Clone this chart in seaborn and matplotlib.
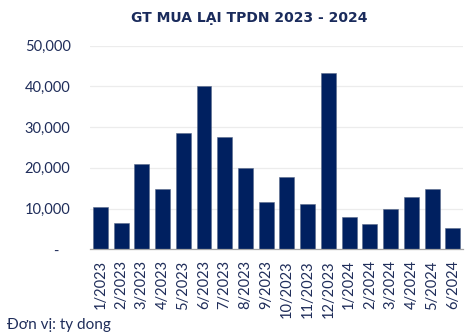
import matplotlib
matplotlib.use("Agg")
import matplotlib.pyplot as plt
import seaborn as sns
import pandas as pd
from matplotlib.ticker import FixedLocator, FuncFormatter

months = ["1/2023", "2/2023", "3/2023", "4/2023", "5/2023", "6/2023", "7/2023", "8/2023",
          "9/2023", "10/2023", "11/2023", "12/2023", "1/2024", "2/2024", "3/2024", "4/2024",
          "5/2024", "6/2024"]
values = [10300, 6400, 21000, 14900, 28500, 40000, 27600, 20000, 11600, 17700, 11000, 43400,
          8000, 6200, 9800, 12900, 14900, 5200]
yticks = [0, 10000, 20000, 30000, 40000, 50000]

df = pd.DataFrame({"month": months, "value": values})

sns.set_style("white")
plt.rcParams["font.family"] = ["Lato", "DejaVu Sans"]

fig = plt.figure(figsize=(4.76, 3.35), dpi=100)
ax = fig.add_axes([0.189, 0.256, 0.784, 0.6075])

sns.barplot(data=df, x="month", y="value", color="#002060", width=0.72, ax=ax,
            saturation=1, edgecolor="#5a6a8a", linewidth=0.4)

ax.set_ylim(0, 50000)
ax.set_xlim(-0.5, len(months) - 0.5)
ax.set_yticks(yticks)
ax.yaxis.set_major_formatter(FuncFormatter(lambda v, p: "-   " if v == 0 else f"{int(v):,}"))
ax.grid(axis="y", color="#ececec", linewidth=0.9)
ax.set_axisbelow(True)
for s in ["top", "right", "left"]:
    ax.spines[s].set_visible(False)
ax.spines["bottom"].set_color("#a6a6a6")
ax.spines["bottom"].set_linewidth(0.9)

ax.set_xlabel("")
ax.set_ylabel("")
ax.tick_params(axis="y", length=0, pad=14, labelsize=10.5, labelcolor="#1f2d5a")
ax.tick_params(axis="x", which="major", length=0, pad=8, labelsize=10.5, labelcolor="#1f2d5a",
               labelrotation=90)
ax.xaxis.set_minor_locator(FixedLocator([i - 0.5 for i in range(len(months) + 1)]))
ax.tick_params(axis="x", which="minor", length=4, color="#a6a6a6", width=0.9)

fig.text(0.5245, 0.946, "GT MUA LẠI TPDN 2023 - 2024", ha="center", va="center",
         fontsize=10, fontweight="bold", color="#1a2b5c", family=["DejaVu Sans"])
fig.text(0.015, 0.03, "Đơn vị: ty dong", ha="left", va="center", fontsize=11,
         color="#1f2d5a")

fig.savefig("out.png", dpi=100)
